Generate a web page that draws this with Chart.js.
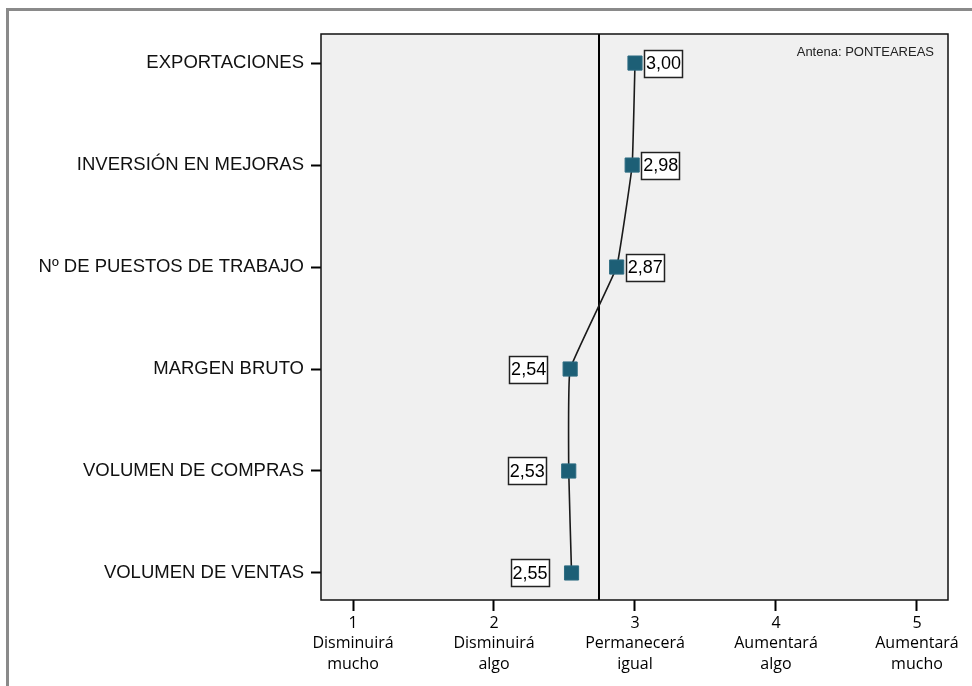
<!DOCTYPE html>
<html>
<head>
<meta charset="utf-8">
<script src="https://cdn.jsdelivr.net/npm/chart.js@4/dist/chart.umd.min.js"></script>
<style>
  html, body { margin: 0; padding: 0; background: #fff; overflow: hidden; }
  #frame { position: absolute; left: 6px; top: 8px; width: 1200px; height: 1200px;
           border-left: 3px solid #8a8a8a; border-top: 3px solid #8a8a8a; box-sizing: border-box; }
  #c { position: absolute; left: 0; top: 0; }
</style>
</head>
<body>
<div id="frame"></div>
<canvas id="c" width="972" height="686"></canvas>
<script>
const categories = ['EXPORTACIONES', 'INVERSIÓN EN MEJORAS', 'Nº DE PUESTOS DE TRABAJO', 'MARGEN BRUTO', 'VOLUMEN DE COMPRAS', 'VOLUMEN DE VENTAS'];
const values = [3.00, 2.98, 2.87, 2.54, 2.53, 2.55];
const xTickValues = [1, 2, 3, 4, 5];
const xTickLabels = [['1', 'Disminuirá', 'mucho'], ['2', 'Disminuirá', 'algo'], ['3', 'Permanecerá', 'igual'], ['4', 'Aumentará', 'algo'], ['5', 'Aumentará', 'mucho']];
const referenceValue = 2.745;
const annotationText = 'Antena: PONTEAREAS';

const points = values.map((v, i) => ({ x: v, y: i }));

const plotFrame = {
  id: 'plotFrame',
  beforeDatasetsDraw(chart) {
    const { ctx, chartArea: a, scales } = chart;
    ctx.save();
    const rx = Math.round(scales.x.getPixelForValue(referenceValue));
    ctx.strokeStyle = '#000';
    ctx.lineWidth = 2;
    ctx.beginPath();
    ctx.moveTo(rx, a.top);
    ctx.lineTo(rx, a.bottom);
    ctx.stroke();
    ctx.fillStyle = '#222';
    ctx.font = '13px "Liberation Sans", Arial, sans-serif';
    ctx.textAlign = 'right';
    ctx.textBaseline = 'middle';
    ctx.fillText(annotationText, a.right - 14, a.top + 18);
    ctx.restore();
  },
  beforeDraw(chart) {
    const { ctx, chartArea: a } = chart;
    ctx.save();
    ctx.fillStyle = '#f0f0f0';
    ctx.fillRect(a.left, a.top, a.right - a.left, a.bottom - a.top);
    ctx.restore();
  },
  afterDraw(chart) {
    const { ctx, chartArea: a } = chart;
    ctx.save();
    ctx.strokeStyle = '#111';
    ctx.lineWidth = 1.5;
    ctx.strokeRect(a.left, a.top, a.right - a.left, a.bottom - a.top);
    ctx.restore();
  }
};

const valueLabels = {
  id: 'valueLabels',
  afterDatasetsDraw(chart) {
    const { ctx } = chart;
    const meta = chart.getDatasetMeta(0);
    ctx.save();
    ctx.font = '18px "Liberation Sans", Arial, sans-serif';
    ctx.textAlign = 'center';
    ctx.textBaseline = 'middle';
    meta.data.forEach((el, i) => {
      const v = values[i];
      const txt = v.toFixed(2).replace('.', ',');
      const w = 38, h = 27;
      let left;
      if (v > referenceValue) left = el.x + 9; else left = el.x - 23 - w;
      const top = el.y - h / 2;
      ctx.fillStyle = '#fff';
      ctx.fillRect(left, top, w, h);
      ctx.strokeStyle = '#222';
      ctx.lineWidth = 1.5;
      ctx.strokeRect(Math.round(left) + 0.5, Math.round(top) + 0.5, w, h);
      ctx.fillStyle = '#000';
      ctx.fillText(txt, left + w / 2 + 0.5, el.y + 1);
    });
    ctx.restore();
  }
};

new Chart(document.getElementById('c'), {
  type: 'scatter',
  data: {
    datasets: [{
      data: points,
      showLine: true,
      borderColor: '#1a1a1a',
      borderWidth: 1.6,
      tension: 0.08,
      pointStyle: 'rect',
      pointRadius: 10,
      pointHoverRadius: 10,
      pointBackgroundColor: '#1d5f76',
      pointBorderColor: '#2d6c82',
      pointBorderWidth: 1
    }]
  },
  plugins: [plotFrame, valueLabels],
  options: {
    responsive: false,
    animation: false,
    events: [],
    layout: { padding: { top: 34, right: 24, bottom: 0, left: 0 } },
    plugins: { legend: { display: false }, tooltip: { enabled: false } },
    scales: {
      x: {
        type: 'linear',
        min: 0.773,
        max: 5.22,
        afterBuildTicks(scale) { scale.ticks = xTickValues.map(v => ({ value: v })); },
        afterFit(scale) { scale.height = 86; },
        border: { display: false },
        grid: { drawOnChartArea: false, drawTicks: true, tickLength: 11, tickColor: '#000', tickWidth: 2 },
        ticks: {
          autoSkip: false,
          maxRotation: 0,
          padding: 2,
          color: '#000',
          font: { family: '"Open Sans", sans-serif', size: 16, lineHeight: '20.5px' },
          callback(v) { const i = xTickValues.indexOf(v); return i >= 0 ? xTickLabels[i] : ''; }
        }
      },
      y: {
        type: 'linear',
        reverse: true,
        min: -0.285,
        max: 5.265,
        afterBuildTicks(scale) { scale.ticks = categories.map((c, i) => ({ value: i })); },
        afterFit(scale) { scale.width = 321; },
        border: { display: false },
        grid: { drawOnChartArea: false, drawTicks: true, tickLength: 10, tickColor: '#000', tickWidth: 2 },
        ticks: {
          autoSkip: false,
          padding: 7,
          color: '#111',
          font: { family: '"Liberation Sans", Arial, sans-serif', size: 18.5 },
          callback(v) { return categories[v] !== undefined ? categories[v] : ''; }
        }
      }
    }
  }
});
</script>
</body>
</html>
